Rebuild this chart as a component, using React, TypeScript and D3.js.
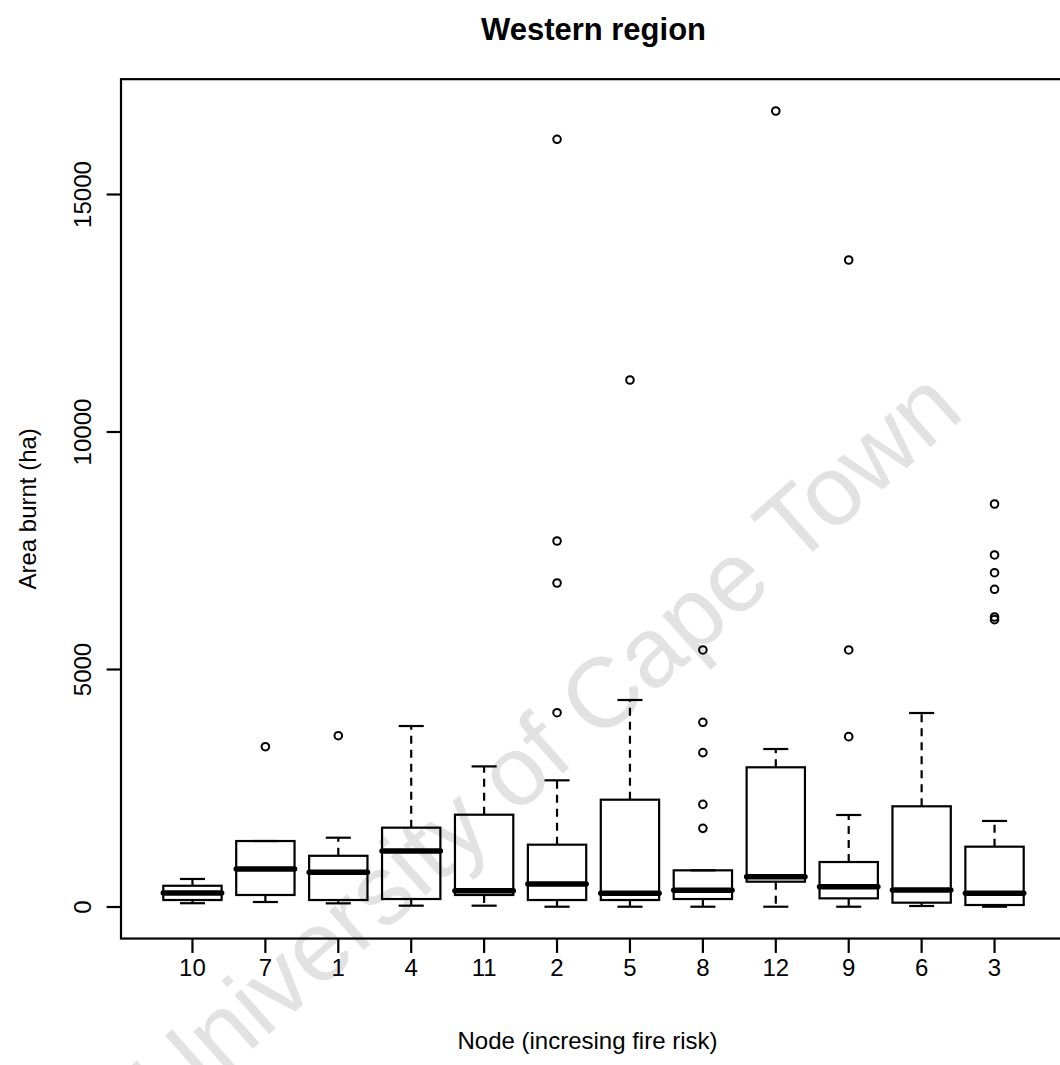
import React from "react";
import * as d3 from "d3";

// Node labels, ordered by increasing fire risk
const nodes = ["10", "7", "1", "4", "11", "2", "5", "8", "12", "9", "6", "3"];

// Five-number summaries of area burnt (ha) per node
const lowerWhisker = [80, 105, 77, 28, 28, 6, 6, 6, 6, 6, 21, 6];
const q1 = [147, 253, 147, 168, 253, 147, 147, 168, 533, 182, 91, 42];
const median = [295, 800, 730, 1179, 343, 484, 288, 351, 638, 428, 358, 288];
const q3 = [447, 1389, 1078, 1670, 1943, 1312, 2259, 772, 2941, 947, 2120, 1270];
const upperWhisker = [590, 1389, 1459, 3810, 2960, 2667, 4358, 772, 3326, 1937, 4084, 1811];

// Points beyond the whiskers
const outliers: number[][] = [
  [],
  [3375],
  [3606],
  [],
  [],
  [4091, 6821, 7705, 16162],
  [11095],
  [1656, 2160, 3249, 3888, 5411],
  [16758],
  [3586, 5411, 13621],
  [],
  [6050, 6105, 6688, 7038, 7411, 8484],
];

const yTicks = [0, 5000, 10000, 15000];

const W = 1060;
const H = 1065;
const FONT = "'Liberation Sans', Arial, Helvetica, sans-serif";

export default function App() {
  const n = nodes.length;
  // R-style axis extension: 4% beyond the data range
  const x = d3.scaleLinear().domain([0.5 - 0.04 * n, n + 0.5 + 0.04 * n]).range([121, 1066]);

  const allVals = [...lowerWhisker, ...upperWhisker, ...outliers.flat()];
  const yMin = d3.min(allVals) as number;
  const yMax = d3.max(allVals) as number;
  const pad = 0.04 * (yMax - yMin);
  const y = d3.scaleLinear().domain([0, 15000]).range([907, 194.5]);

  const left = x.range()[0];
  const right = x.range()[1];
  const top = y(yMax + pad);
  const bottom = y(yMin - pad);

  const boxW = 0.8 * (x(2) - x(1));
  const stapleW = 0.5 * boxW * 0.86;

  return (
    <svg
      width={W}
      height={H}
      viewBox={`0 0 ${W} ${H}`}
      style={{ position: "absolute", left: 0, top: 0, display: "block", background: "#fff" }}
    >
      <rect x={0} y={0} width={W} height={H} fill="#fff" />

      {/* watermark */}
      <text
        transform="translate(568,769) rotate(-41.6)"
        textAnchor="middle"
        fontFamily={FONT}
        fontSize={99}
        fill="#e2e2e2"
      >
        University of Cape Town
      </text>

      {/* title */}
      <text
        x={(left + right) / 2}
        y={40}
        textAnchor="middle"
        fontFamily={FONT}
        fontWeight="bold"
        fontSize={31}
        fill="#000"
      >
        Western region
      </text>

      {/* plot frame */}
      <rect
        x={left}
        y={top}
        width={right - left}
        height={bottom - top}
        fill="none"
        stroke="#000"
        strokeWidth={2.2}
      />

      {/* y axis */}
      {yTicks.map((t) => (
        <g key={t}>
          <line x1={left - 14.4} x2={left} y1={y(t)} y2={y(t)} stroke="#000" strokeWidth={2.2} />
          <text
            transform={`translate(91,${y(t)}) rotate(-90)`}
            textAnchor="middle"
            fontFamily={FONT}
            fontSize={24}
            fill="#000"
          >
            {t}
          </text>
        </g>
      ))}
      <text
        transform={`translate(36,${(top + bottom) / 2}) rotate(-90)`}
        textAnchor="middle"
        fontFamily={FONT}
        fontSize={24}
        fill="#000"
      >
        Area burnt (ha)
      </text>

      {/* x axis */}
      {nodes.map((lab, i) => (
        <g key={lab}>
          <line x1={x(i + 1)} x2={x(i + 1)} y1={bottom} y2={bottom + 14.4} stroke="#000" strokeWidth={2.2} />
          <text x={x(i + 1)} y={976} textAnchor="middle" fontFamily={FONT} fontSize={24} fill="#000">
            {lab}
          </text>
        </g>
      ))}
      <text
        x={(left + right) / 2 - 6}
        y={1049}
        textAnchor="middle"
        fontFamily={FONT}
        fontSize={24}
        fill="#000"
      >
        Node (incresing fire risk)
      </text>

      {/* boxes */}
      {nodes.map((lab, i) => {
        const cx = x(i + 1);
        return (
          <g key={`b${lab}`} stroke="#000" fill="none">
            {/* whiskers */}
            <line x1={cx} x2={cx} y1={y(q3[i])} y2={y(upperWhisker[i])} strokeWidth={2.2} strokeDasharray="8,6" />
            <line x1={cx} x2={cx} y1={y(q1[i])} y2={y(lowerWhisker[i])} strokeWidth={2.2} strokeDasharray="8,6" />
            {/* staples */}
            <line x1={cx - stapleW / 2} x2={cx + stapleW / 2} y1={y(upperWhisker[i])} y2={y(upperWhisker[i])} strokeWidth={2.2} />
            <line x1={cx - stapleW / 2} x2={cx + stapleW / 2} y1={y(lowerWhisker[i])} y2={y(lowerWhisker[i])} strokeWidth={2.2} />
            {/* box */}
            <rect
              x={cx - boxW / 2}
              y={y(q3[i])}
              width={boxW}
              height={y(q1[i]) - y(q3[i])}
              fill="none"
              strokeWidth={2.2}
            />
            {/* median */}
            <line
              x1={cx - boxW / 2}
              x2={cx + boxW / 2}
              y1={y(median[i])}
              y2={y(median[i])}
              strokeWidth={5.5}
              strokeLinecap="round"
            />
            {/* outliers */}
            {outliers[i].map((v, j) => (
              <circle key={j} cx={cx} cy={y(v)} r={3.8} strokeWidth={2} fill="none" />
            ))}
          </g>
        );
      })}
    </svg>
  );
}
